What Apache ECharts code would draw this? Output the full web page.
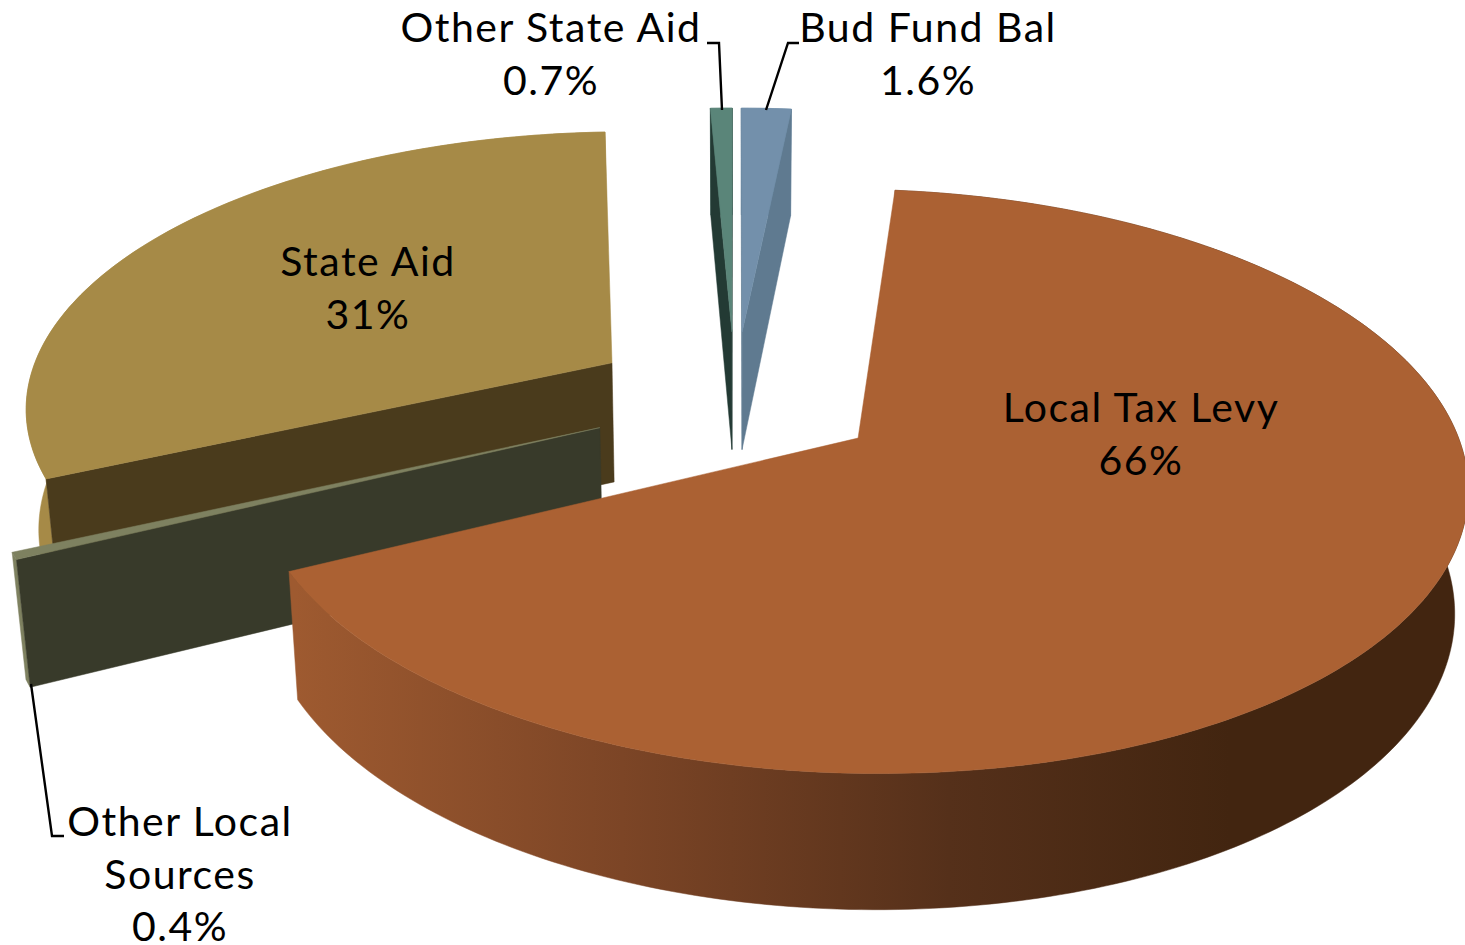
<!DOCTYPE html>
<html>
<head>
<meta charset="utf-8">
<title>Revenue sources</title>
<style>
html,body{margin:0;padding:0;background:#fff}
#chart{width:1465px;height:945px}
#chart text{letter-spacing:1.5px}
</style>
<script src="https://cdn.jsdelivr.net/npm/echarts@6/dist/echarts.min.js"></script>
</head>
<body>
<div id="chart"></div>
<script>
// Revenue shares, clockwise from the first slice
const sliceNames = ['Local Tax Levy', 'Other Local\nSources', 'State Aid', 'Other State Aid', 'Bud Fund Bal'];
const sliceValues = [66, 0.4, 31, 0.7, 1.6];
const valueLabels = ['66%', '0.4%', '31%', '0.7%', '1.6%'];

// Slice appearance
const topColors = ['#AB6133', '#7E8160', '#A68A47', '#5A8579', '#7390AB'];
const cutColors = ['#5a3018', '#383A2A', '#4A3B1C', '#233A34', '#5F7A90'];
const paintRank = [5, 4, 1, 2, 3];

// Label placement: centre of the text block, and distance between its lines
const labelCentres = [[1141, 433], [180, 873], [368, 287], [551, 53], [928, 53]];
const labelLineGap = 52.5;

// Leader lines from a label to its slice
const leaderLines = [
  null,
  [[31, 684], [52, 836], [64, 836]],
  null,
  [[707, 43], [719, 43], [722, 110]],
  [[799, 43], [788, 43], [766, 110]]
];

// Camera over the pie, radius = 1 in model units
const view = { cx: 735, cy: 398, f: 3587, dist: 6.1, sinT: 0.466, cosT: 0.885 };
const thickness = 0.236;
const explode = 0.25;
const firstAngle = 5.78;

function project(x, z, below) {
  const h = below ? thickness : 0;
  const d = view.dist + h * view.sinT - z * view.cosT;
  return [
    view.cx + view.f * x / d,
    view.cy + view.f * (h * view.cosT + z * view.sinT) / d
  ];
}

function signedArea(pts) {
  let s = 0;
  pts.forEach((p, i) => {
    const q = pts[(i + 1) % pts.length];
    s += p[0] * q[1] - q[0] * p[1];
  });
  return s;
}

const total = sliceValues.reduce((a, b) => a + b, 0);
const spans = [];
sliceValues.reduce((start, v) => {
  const end = start + v / total * 360;
  spans.push([start, end]);
  return end;
}, firstAngle);

const sideGradient = new echarts.graphic.LinearGradient(295, 0, 1230, 0, [
  { offset: 0, color: '#9E5A30' },
  { offset: 0.35, color: '#7C4526' },
  { offset: 0.7, color: '#55301A' },
  { offset: 1, color: '#422510' }
], true);
const sideColors = [sideGradient, '#7E8160', '#A68A47', '#5A8579', '#7390AB'];

function renderSlice(params, api) {
  const i = params.dataIndex;
  const rad = Math.PI / 180;
  const [a0, a1] = spans[i];
  const mid = (a0 + a1) / 2 * rad;
  const ex = explode * Math.sin(mid);
  const ez = -explode * Math.cos(mid);
  const rimTop = [];
  const rimBottom = [];
  const steps = Math.max(2, Math.ceil(a1 - a0));
  for (let s = 0; s <= steps; s++) {
    const t = (a0 + (a1 - a0) * s / steps) * rad;
    const x = ex + Math.sin(t);
    const z = ez - Math.cos(t);
    rimTop.push(project(x, z, false));
    rimBottom.push(project(x, z, true));
  }
  const apexTop = project(ex, ez, false);
  const apexBottom = project(ex, ez, true);
  const base = paintRank[i] * 10;
  const poly = (points, fill, z2) => ({
    type: 'polygon',
    z2: z2,
    shape: { points: points },
    style: { fill: fill, stroke: fill, lineWidth: 0.5 }
  });
  const children = [];

  // Curved outer wall
  children.push(poly(rimTop.concat(rimBottom.slice().reverse()), sideColors[i], base));

  // Radial cut walls, front-facing ones only
  const startWall = [apexTop, rimTop[0], rimBottom[0], apexBottom];
  const endWall = [apexTop, rimTop[steps], rimBottom[steps], apexBottom];
  if (signedArea(startWall) < 0) children.push(poly(startWall, cutColors[i], base + 1));
  if (signedArea(endWall) > 0) children.push(poly(endWall, cutColors[i], base + 1));

  // Top face
  children.push(poly([apexTop].concat(rimTop), topColors[i], base + 2));

  // Leader line
  if (leaderLines[i]) {
    children.push({
      type: 'polyline',
      z2: 90,
      shape: { points: leaderLines[i] },
      style: { stroke: '#000', lineWidth: 2.4, fill: null }
    });
  }

  // Label, one text element per line
  const lines = sliceNames[i].split('\n').concat(valueLabels[i]);
  lines.forEach((line, j) => {
    children.push({
      type: 'text',
      z2: 100,
      x: labelCentres[i][0],
      y: labelCentres[i][1] + (j - (lines.length - 1) / 2) * labelLineGap,
      style: {
        text: line,
        font: '41px Lato, sans-serif',
        fill: '#000',
        align: 'center',
        verticalAlign: 'middle',
        lineHeight: 36
      }
    });
  });
  return { type: 'group', children: children };
}

const chart = echarts.init(document.getElementById('chart'), null, { renderer: 'svg' });
chart.setOption({
  backgroundColor: '#fff',
  animation: false,
  series: [{
    type: 'custom',
    coordinateSystem: 'none',
    renderItem: renderSlice,
    data: sliceValues.map((v) => [v]),
    silent: true
  }]
});
</script>
</body>
</html>
